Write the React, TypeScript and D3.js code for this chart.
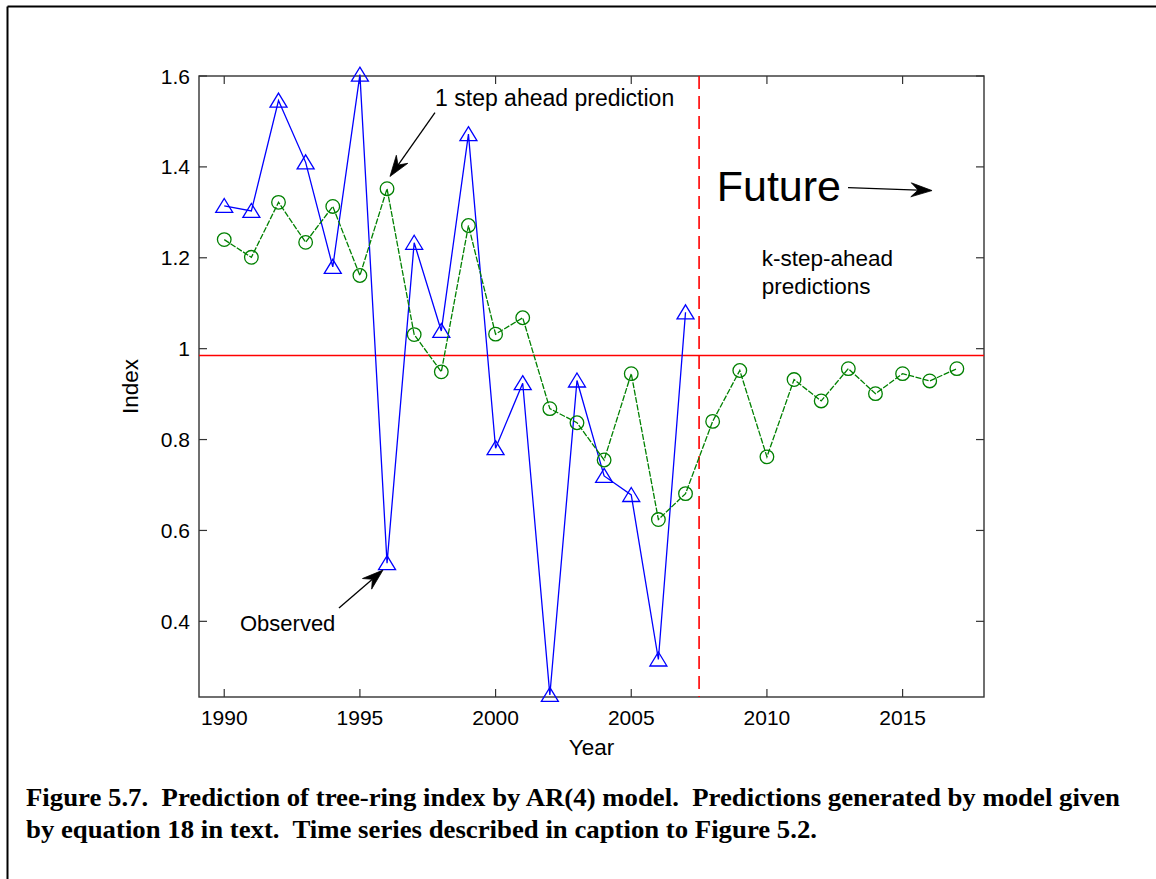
import React from 'react';
import * as d3 from 'd3';

// ---- data ----
const observedYears = [1990, 1991, 1992, 1993, 1994, 1995, 1996, 1997, 1998, 1999, 2000, 2001, 2002, 2003, 2004, 2005, 2006, 2007];
const observed = [1.314, 1.303, 1.546, 1.41, 1.18, 1.603, 0.528, 1.233, 1.039, 1.472, 0.781, 0.924, 0.238, 0.93, 0.72, 0.678, 0.316, 1.08];

const predictedYears = [1990, 1991, 1992, 1993, 1994, 1995, 1996, 1997, 1998, 1999, 2000, 2001, 2002, 2003, 2004, 2005, 2006, 2007, 2008, 2009, 2010, 2011, 2012, 2013, 2014, 2015, 2016, 2017];
const predicted = [1.240, 1.201, 1.322, 1.234, 1.313, 1.161, 1.352, 1.031, 0.949, 1.271, 1.032, 1.068, 0.868, 0.837, 0.755, 0.945, 0.624, 0.681, 0.840, 0.952, 0.762, 0.932, 0.885, 0.956, 0.901, 0.945, 0.929, 0.956];

const xTicks = [1990, 1995, 2000, 2005, 2010, 2015];
const xTickLabels = ['1990', '1995', '2000', '2005', '2010', '2015'];
const yTicks = [0.4, 0.6, 0.8, 1, 1.2, 1.4, 1.6];
const yTickLabels = ['0.4', '0.6', '0.8', '1', '1.2', '1.4', '1.6'];

const meanIndex = 0.985;
const forecastStart = 2007.5;

const captionLines = [
  'Figure 5.7.  Prediction of tree-ring index by AR(4) model.  Predictions generated by model given',
  'by equation 18 in text.  Time series described in caption to Figure 5.2.',
];

// annotation anchors in data coordinates
const annotationTexts = [
  { text: '1 step ahead prediction', year: 1997.77, value: 1.5345, size: 23 },
  { text: 'Observed', year: 1990.58, value: 0.3787, size: 22 },
  { text: 'Future', year: 2008.15, value: 1.326, size: 43 },
  { text: 'k-step-ahead', year: 2009.81, value: 1.183, size: 22.5 },
  { text: 'predictions', year: 2009.81, value: 1.121, size: 22.5 },
];
const annotationArrows = [
  { from: [1997.766, 1.5195], to: [1996.108, 1.3789] },
  { from: [1994.228, 0.4292], to: [1995.85, 0.5127] },
  { from: [2012.989, 1.3545], to: [2016.085, 1.3479] },
];

const W = 1156;
const H = 879;
const plot = { left: 199, right: 984, top: 76, bottom: 697 };
const SANS = '"Liberation Sans", Arial, sans-serif';
const SERIF = '"Liberation Serif", "Times New Roman", serif';
const AXIS = '#333';

function arrowHead(x1: number, y1: number, x2: number, y2: number) {
  const dx = x2 - x1, dy = y2 - y1;
  const len = Math.hypot(dx, dy);
  const ux = dx / len, uy = dy / len;
  const px = -uy, py = ux;
  const L = 21, Wd = 7, N = 14;
  const bx = x2 - ux * L, by = y2 - uy * L;
  const nx = x2 - ux * N, ny = y2 - uy * N;
  const path = `M${x2},${y2}L${bx + px * Wd},${by + py * Wd}L${nx},${ny}L${bx - px * Wd},${by - py * Wd}Z`;
  return { path, lineEnd: [nx, ny] };
}

export default function App() {
  const x = d3.scaleLinear().domain([1989.07, 2018]).range([plot.left, plot.right]);
  const y = d3.scaleLinear().domain([0.2335, 1.6]).range([plot.bottom, plot.top]);

  const line = d3.line<[number, number]>().x(d => d[0]).y(d => d[1]);
  const obsPts: [number, number][] = observedYears.map((yr, i) => [x(yr), y(observed[i])]);
  const predPts: [number, number][] = predictedYears.map((yr, i) => [x(yr), y(predicted[i])]);

  const tickLen = 8;

  return (
    <svg width={W} height={H} viewBox={`0 0 ${W} ${H}`}
      style={{ position: 'absolute', left: 0, top: 0, display: 'block', background: '#fff' }}>
      <rect x={0} y={0} width={W} height={H} fill="#fff" />
      {/* page frame */}
      <line x1={7.5} y1={6.5} x2={W} y2={6.5} stroke="#000" strokeWidth={2} />
      <line x1={7.5} y1={6.5} x2={7.5} y2={H} stroke="#000" strokeWidth={2} />

      {/* axes box */}
      <rect x={plot.left} y={plot.top} width={plot.right - plot.left} height={plot.bottom - plot.top}
        fill="none" stroke={AXIS} strokeWidth={1.4} />
      {xTicks.map((t, i) => (
        <g key={'xt' + i}>
          <line x1={x(t)} x2={x(t)} y1={plot.bottom} y2={plot.bottom - tickLen} stroke={AXIS} strokeWidth={1.2} />
          <line x1={x(t)} x2={x(t)} y1={plot.top} y2={plot.top + tickLen} stroke={AXIS} strokeWidth={1.2} />
          <text x={x(t)} y={725} textAnchor="middle" fontFamily={SANS} fontSize={21} fill="#000">{xTickLabels[i]}</text>
        </g>
      ))}
      {yTicks.map((t, i) => (
        <g key={'yt' + i}>
          <line x1={plot.left} x2={plot.left + tickLen} y1={y(t)} y2={y(t)} stroke={AXIS} strokeWidth={1.2} />
          <line x1={plot.right} x2={plot.right - tickLen} y1={y(t)} y2={y(t)} stroke={AXIS} strokeWidth={1.2} />
          <text x={190} y={y(t) + 7.6} textAnchor="end" fontFamily={SANS} fontSize={21} fill="#000">{yTickLabels[i]}</text>
        </g>
      ))}
      <text x={(plot.left + plot.right) / 2} y={755} textAnchor="middle" fontFamily={SANS} fontSize={22.5} fill="#000">Year</text>
      <text transform={`translate(138, ${(plot.top + plot.bottom) / 2}) rotate(-90)`} textAnchor="middle"
        fontFamily={SANS} fontSize={22.5} fill="#000">Index</text>

      {/* mean line and forecast origin */}
      <line x1={plot.left} x2={plot.right} y1={y(meanIndex)} y2={y(meanIndex)} stroke="#ff0000" strokeWidth={1.5} />
      <line x1={x(forecastStart)} x2={x(forecastStart)} y1={plot.top} y2={plot.bottom} stroke="#ff0000"
        strokeWidth={1.6} strokeDasharray="13,7" />

      {/* observed */}
      <path d={line(obsPts) || ''} fill="none" stroke="#0000ff" strokeWidth={1.3} />
      {obsPts.map((p, i) => (
        <path key={'o' + i} d={`M${p[0]},${p[1] - 7.5}L${p[0] + 8.5},${p[1] + 6.5}L${p[0] - 8.5},${p[1] + 6.5}Z`}
          fill="none" stroke="#0000ff" strokeWidth={1.3} />
      ))}

      {/* predicted */}
      <path d={line(predPts) || ''} fill="none" stroke="#008000" strokeWidth={1.3} strokeDasharray="6,1.5" />
      {predPts.map((p, i) => (
        <circle key={'p' + i} cx={p[0]} cy={p[1]} r={6.8} fill="none" stroke="#008000" strokeWidth={1.3} />
      ))}

      {/* annotations */}
      {annotationTexts.map((a, i) => (
        <text key={'a' + i} x={x(a.year)} y={y(a.value)} fontFamily={SANS} fontSize={a.size} fill="#000">{a.text}</text>
      ))}
      {annotationArrows.map((a, i) => {
        const x1 = x(a.from[0]), y1 = y(a.from[1]), x2 = x(a.to[0]), y2 = y(a.to[1]);
        const h = arrowHead(x1, y1, x2, y2);
        return (
          <g key={'ar' + i}>
            <line x1={x1} y1={y1} x2={h.lineEnd[0]} y2={h.lineEnd[1]} stroke="#000" strokeWidth={1.3} />
            <path d={h.path} fill="#000" stroke="#000" strokeWidth={0.8} />
          </g>
        );
      })}

      {/* caption */}
      <text x={26} y={806} fontFamily={SERIF} fontWeight="bold" fontSize={24.5} fill="#000"
        textLength={1094} lengthAdjust="spacingAndGlyphs" style={{ whiteSpace: 'pre' }}>{captionLines[0]}</text>
      <text x={26} y={838} fontFamily={SERIF} fontWeight="bold" fontSize={24.5} fill="#000"
        textLength={791} lengthAdjust="spacingAndGlyphs" style={{ whiteSpace: 'pre' }}>{captionLines[1]}</text>
    </svg>
  );
}
